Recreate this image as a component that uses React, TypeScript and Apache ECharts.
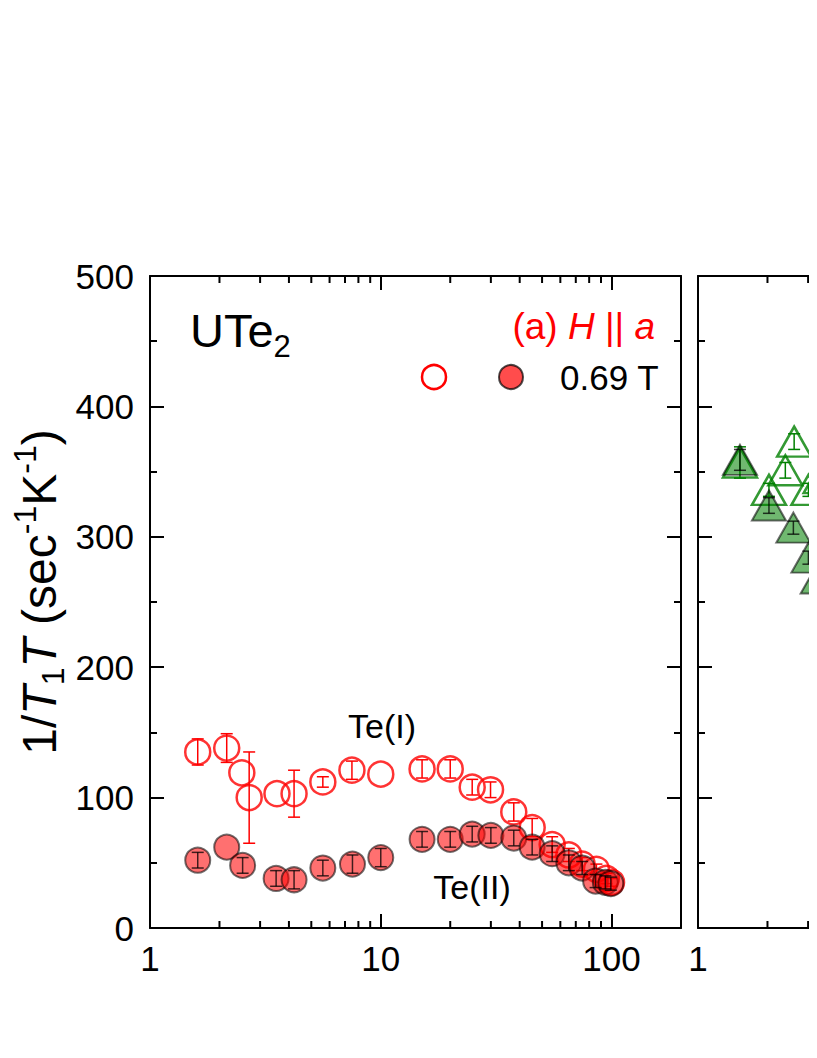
import React, { useEffect, useRef } from "react";
import * as echarts from "echarts";

const FONT = '"Liberation Sans", Arial, Helvetica, sans-serif';

// [T (K), 1/T1T, error]
const TE1_OPEN: number[][] = [
  [1.61, 135, 10],
  [2.15, 138, 11],
  [2.5, 119, 0],
  [2.69, 100, 35],
  [3.55, 103, 0],
  [4.21, 103, 18],
  [5.61, 112, 4],
  [7.5, 121, 7],
  [10, 118, 0],
  [15.1, 122, 7],
  [20, 122, 7],
  [24.9, 108, 6],
  [29.9, 106, 6],
  [37.7, 89, 7],
  [45.3, 77, 7],
  [55.3, 64, 6],
  [65.3, 56, 5],
  [74.6, 49, 5],
  [86, 45, 4],
  [95, 38, 4],
  [100, 35, 3],
];

const TE2_FILLED: number[][] = [
  [1.61, 52, 6],
  [2.15, 62, 0],
  [2.52, 48, 6],
  [3.52, 38, 6],
  [4.21, 37, 7],
  [5.61, 46, 6],
  [7.54, 49, 7],
  [10, 54, 7],
  [15.1, 68, 6],
  [20, 68, 6],
  [24.9, 72, 6],
  [30, 71, 6],
  [37.7, 69, 6],
  [45.3, 62, 6],
  [55.3, 57, 6],
  [65.3, 50, 6],
  [74.6, 46, 5],
  [85.3, 36, 5],
  [94, 35, 5],
  [99.3, 34, 5],
];

const GREEN_OPEN: number[][] = [
  [1.52, 357, 12],
  [2.03, 336, 5],
  [2.39, 351, 6],
  [2.61, 373, 6],
  [3.01, 336, 5],
  [3.4, 345, 5],
];

const GREEN_FILLED: number[][] = [
  [1.52, 359, 8],
  [2.03, 324, 6],
  [2.59, 307, 5],
  [3.01, 284, 5],
  [3.3, 268, 5],
];

const X_MINOR = [2, 3, 4, 5, 6, 7, 8, 9, 20, 30, 40, 50, 60, 70, 80, 90];
const X_LABELS_LEFT = [1, 10, 100];
const X_LABELS_RIGHT = [1]; // only the part of the second panel that is in view
const X_MIN = 1;
const X_MAX = 200;
const Y_MIN = 0;
const Y_MAX = 500;
const Y_STEP = 100;

const RED = "#ff0000";
const GREEN = "#008000";

function xAxis(gridIndex: number, position: string, labels: number[]) {
  return {
    type: "log",
    logBase: 10,
    min: X_MIN,
    max: X_MAX,
    gridIndex,
    position,
    axisLine: { show: true, onZero: false, lineStyle: { color: "#000", width: 2 } },
    axisTick: { show: true, inside: true, length: 14, lineStyle: { color: "#000", width: 2 } },
    splitLine: { show: false },
    axisLabel: {
      show: labels.length > 0,
      margin: 13,
      fontSize: 35,
      color: "#000",
      fontFamily: FONT,
      formatter: (v: number) =>
        labels.some((l) => Math.abs(l - v) < 1e-6 * l) ? String(Math.round(v)) : "",
    },
  };
}

function yAxis(gridIndex: number, position: string, showLabel: boolean) {
  return {
    type: "value",
    min: Y_MIN,
    max: Y_MAX,
    interval: Y_STEP,
    gridIndex,
    position,
    axisLine: { show: true, onZero: false, lineStyle: { color: "#000", width: 2 } },
    axisTick: { show: true, inside: true, length: 14, lineStyle: { color: "#000", width: 2 } },
    minorTick: { show: true, splitNumber: 2, length: 7, lineStyle: { color: "#000", width: 2 } },
    splitLine: { show: false },
    axisLabel: {
      show: showLabel,
      margin: 16,
      fontSize: 35,
      color: "#000",
      fontFamily: FONT,
    },
  };
}

function errorBars(data: number[][], color: string, xi: number, z: number) {
  return {
    type: "custom",
    xAxisIndex: xi,
    yAxisIndex: xi,
    silent: true,
    z,
    encode: { x: 0, y: 1 },
    data,
    renderItem: (params: any, api: any) => {
      const x = api.value(0);
      const y = api.value(1);
      const e = api.value(2);
      if (!e) return { type: "group", children: [] };
      const top = api.coord([x, y + e]);
      const bot = api.coord([x, y - e]);
      const w = 6;
      const style = { stroke: color, lineWidth: 1.5 };
      return {
        type: "group",
        children: [
          { type: "line", shape: { x1: top[0], y1: top[1], x2: bot[0], y2: bot[1] }, style },
          { type: "line", shape: { x1: top[0] - w, y1: top[1], x2: top[0] + w, y2: top[1] }, style },
          { type: "line", shape: { x1: bot[0] - w, y1: bot[1], x2: bot[0] + w, y2: bot[1] }, style },
        ],
      };
    },
  };
}

function minorXTicks(xi: number) {
  return {
    type: "custom",
    xAxisIndex: xi,
    yAxisIndex: xi,
    silent: true,
    z: 10,
    encode: { x: 0, y: 1 },
    data: X_MINOR.map((v) => [v, Y_MIN]),
    renderItem: (params: any, api: any) => {
      const v = api.value(0);
      const b = api.coord([v, Y_MIN]);
      const t = api.coord([v, Y_MAX]);
      const style = { stroke: "#000", lineWidth: 2 };
      return {
        type: "group",
        children: [
          { type: "line", shape: { x1: b[0], y1: b[1], x2: b[0], y2: b[1] - 7 }, style },
          { type: "line", shape: { x1: t[0], y1: t[1], x2: t[0], y2: t[1] + 7 }, style },
        ],
      };
    },
  };
}

export default function App() {
  const ref = useRef<HTMLDivElement>(null);

  useEffect(() => {
    if (!ref.current) return;
    const chart = echarts.init(ref.current, undefined, { renderer: "svg" });

    const option: any = {
      animation: false,
      grid: [
        { left: 142, top: 268, width: 531, height: 652 },
        { left: 690, top: 268, width: 531, height: 652 },
      ],
      xAxis: [
        xAxis(0, "bottom", X_LABELS_LEFT),
        xAxis(0, "top", []),
        xAxis(1, "bottom", X_LABELS_RIGHT),
        xAxis(1, "top", []),
      ],
      yAxis: [
        yAxis(0, "left", true),
        yAxis(0, "right", false),
        yAxis(1, "left", false),
        yAxis(1, "right", false),
      ],
      series: [
        minorXTicks(0),
        minorXTicks(2),
        errorBars(TE1_OPEN, RED, 0, 2),
        {
          type: "scatter",
          name: "Te(I) 0.69 T",
          xAxisIndex: 0,
          yAxisIndex: 0,
          z: 3,
          symbol: "circle",
          symbolSize: 25,
          data: TE1_OPEN.map((d) => [d[0], d[1]]),
          itemStyle: { color: "rgba(255,255,255,0)", borderColor: RED, borderWidth: 2.5 },
          emphasis: { disabled: true },
        },
        {
          type: "scatter",
          name: "Te(II) 0.69 T",
          xAxisIndex: 0,
          yAxisIndex: 0,
          z: 4,
          symbol: "circle",
          symbolSize: 25,
          data: TE2_FILLED.map((d) => [d[0], d[1]]),
          itemStyle: { color: "rgba(255,0,0,0.7)", borderColor: "rgba(0,0,0,0.7)", borderWidth: 2 },
          emphasis: { disabled: true },
        },
        errorBars(TE2_FILLED, "rgba(0,0,0,0.75)", 0, 5),
        errorBars(GREEN_OPEN, GREEN, 2, 2),
        {
          type: "scatter",
          name: "Te(I) green",
          xAxisIndex: 2,
          yAxisIndex: 2,
          z: 3,
          symbol: "triangle",
          symbolSize: [34, 30],
          data: GREEN_OPEN.map((d) => [d[0], d[1]]),
          itemStyle: { color: "rgba(255,255,255,0)", borderColor: GREEN, borderWidth: 2.5 },
          emphasis: { disabled: true },
        },
        {
          type: "scatter",
          name: "Te(II) green",
          xAxisIndex: 2,
          yAxisIndex: 2,
          z: 4,
          symbol: "triangle",
          symbolSize: [34, 30],
          data: GREEN_FILLED.map((d) => [d[0], d[1]]),
          itemStyle: { color: "rgba(0,128,0,0.7)", borderColor: "rgba(0,0,0,0.7)", borderWidth: 2 },
          emphasis: { disabled: true },
        },
        errorBars(GREEN_FILLED, "rgba(0,0,0,0.75)", 2, 5),
      ],
      graphic: [
        {
          type: "text",
          x: 31,
          y: 584,
          rotation: Math.PI / 2,
          style: {
            text: "{n|1/}{i|T}{s|1}{i|T}{n| (sec}{p|-1}{n|K}{p|-1}{n|)}",
            align: "center",
            verticalAlign: "middle",
            fill: "#000",
            rich: {
              n: { fontSize: 48, fontFamily: FONT, lineHeight: 60, verticalAlign: "middle", fill: "#000" },
              i: { fontSize: 48, fontFamily: FONT, fontStyle: "italic", lineHeight: 60, verticalAlign: "middle", fill: "#000" },
              s: { fontSize: 32, fontFamily: FONT, lineHeight: 32, verticalAlign: "bottom", fill: "#000" },
              p: { fontSize: 32, fontFamily: FONT, lineHeight: 32, verticalAlign: "top", fill: "#000" },
            },
          },
        },
        {
          type: "text",
          x: 182,
          y: 322,
          style: {
            text: "{m|UTe}{s|2}",
            align: "left",
            verticalAlign: "middle",
            rich: {
              m: { fontSize: 47, fontFamily: FONT, lineHeight: 64, verticalAlign: "middle", fill: "#000" },
              s: { fontSize: 31, fontFamily: FONT, lineHeight: 18, verticalAlign: "bottom", fill: "#000" },
            },
          },
        },
        {
          type: "text",
          x: 647,
          y: 318,
          style: {
            text: "{n|(a) }{i|H}{n| || }{i|a}",
            align: "right",
            verticalAlign: "middle",
            rich: {
              n: { fontSize: 37, fontFamily: FONT, fill: RED },
              i: { fontSize: 37, fontFamily: FONT, fontStyle: "italic", fill: RED },
            },
          },
        },
        {
          type: "circle",
          shape: { cx: 426, cy: 369, r: 12 },
          style: { fill: "rgba(255,255,255,0)", stroke: RED, lineWidth: 2.5 },
        },
        {
          type: "circle",
          shape: { cx: 503, cy: 369, r: 12 },
          style: { fill: "rgba(255,0,0,0.7)", stroke: "rgba(0,0,0,0.7)", lineWidth: 2 },
        },
        {
          type: "text",
          x: 552,
          y: 369,
          style: {
            text: "0.69 T",
            fontSize: 35,
            fontFamily: FONT,
            fill: "#000",
            align: "left",
            verticalAlign: "middle",
          },
        },
        {
          type: "text",
          x: 374,
          y: 718,
          style: {
            text: "Te(I)",
            fontSize: 34,
            fontFamily: FONT,
            fill: "#000",
            align: "center",
            verticalAlign: "middle",
          },
        },
        {
          type: "text",
          x: 464,
          y: 879,
          style: {
            text: "Te(II)",
            fontSize: 34,
            fontFamily: FONT,
            fill: "#000",
            align: "center",
            verticalAlign: "middle",
          },
        },
      ],
    };

    chart.setOption(option);
    return () => chart.dispose();
  }, []);

  return (
    <div style={{ width: 809, height: 1042, overflow: "hidden" }}>
      <div ref={ref} style={{ width: 1300, height: 1042 }} />
    </div>
  );
}
